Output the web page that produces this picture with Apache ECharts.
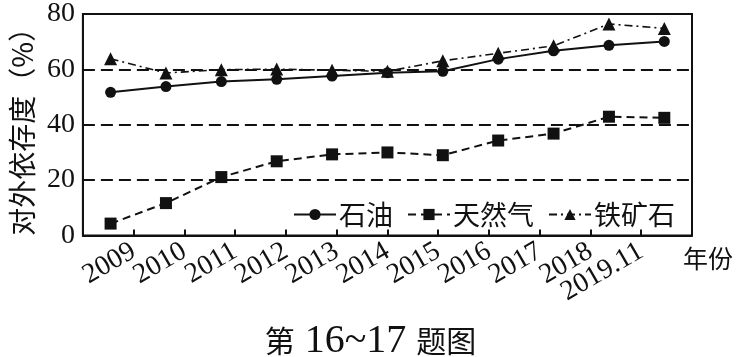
<!DOCTYPE html>
<html>
<head>
<meta charset="utf-8">
<script src="https://cdn.jsdelivr.net/npm/echarts@6/dist/echarts.min.js"></script>
<style>
html,body{margin:0;padding:0;background:#fff;}
#chart{width:741px;height:357px;}
</style>
</head>
<body>
<div id="chart"></div>
<script>
const categories = ['2009','2010','2011','2012','2013','2014','2015','2016','2017','2018','2019.11'];
const tickLabels = ['2009','2010','2011','2012','2013','2014','2015','2016','2017','2018','2019.11'];
const yTicks = [0, 20, 40, 60, 80];
const oil  = [51.7, 53.8, 55.6, 56.4, 57.6, 58.8, 59.3, 63.7, 66.7, 68.7, 70.1];
const gas  = [4.3, 11.7, 21.1, 26.8, 29.3, 30.0, 29.0, 34.3, 36.8, 42.9, 42.5];
const iron = [63.8, 58.7, 59.9, 60.1, 59.7, 59.3, 63.1, 65.8, 68.5, 76.4, 74.8];
const seriesNames = ['石油', '天然气', '铁矿石'];

const INK = '#111';
const serif = '"Liberation Serif", "DejaVu Serif", serif';
const cjk = '"Noto Sans CJK SC", sans-serif';

const chart = echarts.init(document.getElementById('chart'), null, {renderer: 'canvas'});
chart.setOption({
  backgroundColor: '#fff',
  animation: false,
  title: {
    text: '{a|第}{d|16~17}{b|题图}',
    left: 'center',
    top: 316,
    textStyle: {
      fontWeight: 'normal',
      rich: {
        a: {fontFamily: cjk, fontSize: 30, fontWeight: 'normal', color: INK, verticalAlign: 'middle', padding: [0, 10, 0, 0]},
        b: {fontFamily: cjk, fontSize: 30, fontWeight: 'normal', color: INK, verticalAlign: 'middle', padding: [0, 0, 0, 10]},
        d: {fontFamily: serif, fontSize: 40, fontWeight: 'normal', color: INK, verticalAlign: 'middle'}
      }
    }
  },
  graphic: [{
    type: 'text', left: 683, top: 246,
    style: {text: '年份', font: '25px "Noto Sans CJK SC"', fill: INK}
  }],
  legend: {
    left: 288, top: 196,
    itemWidth: 42, itemHeight: 14, itemGap: 14,
    textStyle: {fontFamily: cjk, fontSize: 27, color: INK, padding: [0,0,0,-2]},
    data: seriesNames
  },
  grid: {
    left: 76, right: 49, top: 8, bottom: 121.5,
    show: true, borderColor: INK, borderWidth: 2, containLabel: false
  },
  xAxis: [{
    type: 'category',
    data: categories,
    boundaryGap: true,
    axisLine: {show: true, lineStyle: {color: INK, width: 2}},
    axisTick: {show: false},
    axisLabel: {show: false},
    splitLine: {show: false}
  }, {
    type: 'value',
    position: 'bottom',
    min: 0, max: 12, interval: 1,
    axisLine: {show: false},
    axisTick: {show: true, inside: true, length: 6, lineStyle: {color: INK, width: 2}},
    axisLabel: {
      show: true, rotate: 30, margin: 14,
      fontFamily: serif, fontSize: 28, color: INK,
      formatter: v => tickLabels[v - 1] || ''
    },
    splitLine: {show: false}
  }],
  yAxis: {
    type: 'value',
    min: yTicks[0], max: yTicks[yTicks.length - 1], interval: 20,
    name: '对外依存度（%）',
    nameLocation: 'middle',
    nameRotate: 90,
    nameGap: 40,
    nameTextStyle: {fontFamily: cjk, fontSize: 28, color: INK},
    axisLine: {show: true, lineStyle: {color: INK, width: 2}},
    axisTick: {show: false},
    axisLabel: {fontFamily: serif, fontSize: 28, color: INK, margin: 8},
    splitLine: {show: true, lineStyle: {color: INK, width: 2, type: [12, 6]}}
  },
  series: [{
    name: seriesNames[0], type: 'line', data: oil, xAxisIndex: 0,
    symbol: 'circle', symbolSize: 11,
    lineStyle: {color: INK, width: 2, type: 'solid'},
    itemStyle: {color: INK}
  }, {
    name: seriesNames[1], type: 'line', data: gas, xAxisIndex: 0,
    symbol: 'rect', symbolSize: 12,
    lineStyle: {color: INK, width: 2, type: [8, 5]},
    itemStyle: {color: INK}
  }, {
    name: seriesNames[2], type: 'line', data: iron, xAxisIndex: 0,
    symbol: 'triangle', symbolSize: 13,
    lineStyle: {color: INK, width: 1.6, type: [8, 4, 2, 4]},
    itemStyle: {color: INK}
  }]
});
</script>
</body>
</html>
